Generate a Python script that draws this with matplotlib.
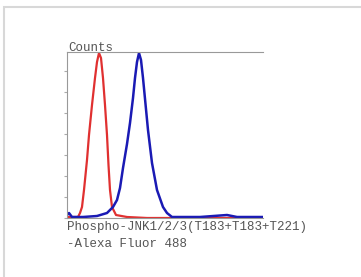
import numpy as np
import matplotlib.pyplot as plt
from matplotlib.patches import Rectangle

# histogram outlines (x: channel, y: counts)
red_x = [0, 5, 11, 13, 15, 17, 18, 20, 22, 25, 28, 30, 32, 34, 36, 38, 40,
         41.5, 43, 45, 49, 60, 80, 196]
red_y = [1, 1, 1, 5, 11, 28, 38, 58, 83, 113, 140, 156, 165, 160, 140, 113, 83,
         53, 28, 11, 3, 1, 0, 0]

blue_x = [0, 2, 5, 16, 30, 40, 46, 50, 53, 56, 60, 63, 66, 68, 70, 72, 74, 76,
          81, 85, 90, 96, 100, 105, 133, 160, 170, 196]
blue_y = [3, 5, 1, 1, 2, 5, 11, 18, 30, 50, 74, 95, 120, 140, 156, 165, 158,
          140, 88, 55, 28, 11, 5, 1, 1, 3, 1, 1]

xlabel_line1 = "Phospho-JNK1/2/3(T183+T183+T221)"
xlabel_line2 = "-Alexa Fluor 488"
ylabel = "Counts"

fig = plt.figure(figsize=(3.61, 2.77), dpi=100)
fig.patch.set_facecolor("white")

# light grey frame on the top and left edges
fig.add_artist(Rectangle((4 / 361, -0.1), 1.2, (277 - 7) / 277 + 0.1,
                         transform=fig.transFigure, fill=False,
                         edgecolor="#d8d8d8", linewidth=1.5))

ax = fig.add_axes([67 / 361, (277 - 218) / 277, 196 / 361, 166 / 277])
ax.plot(red_x, red_y, color="#e03030", linewidth=1.6)
ax.plot(blue_x, blue_y, color="#1a1ab4", linewidth=1.8)

ax.set_xlim(0, 196)
ax.set_ylim(0, 166)
for side in ["left", "top", "bottom"]:
    ax.spines[side].set_color("#999999")
    ax.spines[side].set_linewidth(0.8)
ax.spines["right"].set_visible(False)
ax.set_xticks([])
ax.set_yticks(np.arange(0, 166, 21))
ax.tick_params(axis="y", length=2, color="#aaaaaa", labelleft=False)

font = {"family": "Liberation Mono", "color": "#555555", "size": 9.0}
fig.text(68 / 361, 1 - 51 / 277, ylabel, fontdict=font)
fig.text(67 / 361, 1 - 230 / 277, xlabel_line1, fontdict=font)
fig.text(67 / 361, 1 - 247 / 277, xlabel_line2, fontdict=font)

fig.savefig("out.png", dpi=100)
